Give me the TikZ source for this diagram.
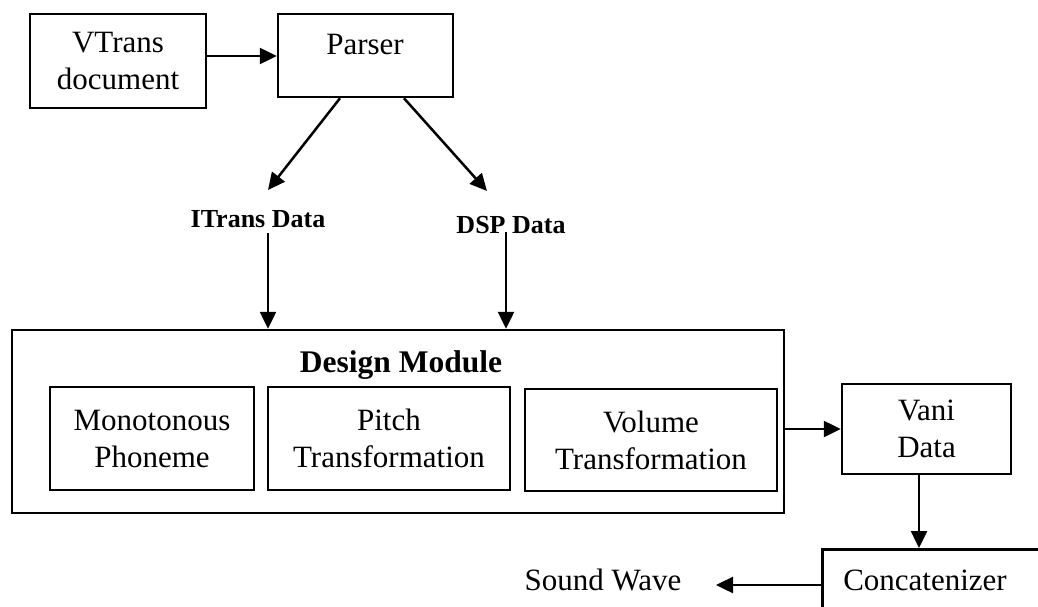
\documentclass[tikz,border=0pt]{standalone}
\usepackage{fontspec}
\setmainfont{Liberation Serif}
\usetikzlibrary{arrows.meta}

\begin{document}
\begin{tikzpicture}[x=1pt,y=-1pt,
  line width=2.5pt,
  box/.style={draw, rectangle, inner sep=0pt, align=center,
    font=\fontsize{31}{37}\selectfont},
  plain/.style={inner sep=0pt, align=center, font=\fontsize{31}{37}\selectfont},
  datalabel/.style={inner sep=0pt, font=\fontsize{26}{30}\selectfont\bfseries},
  flow/.style={-{Triangle[length=17pt,width=16pt]}}
]
\useasboundingbox (0,0) rectangle (1038,607);
\clip (0,0) rectangle (1038,607);

% input and parser
\node[box, minimum width=176, minimum height=94] (vtrans) at (118,61) {VTrans\\document};
\node[box, minimum width=175, minimum height=83] (parser) at (365.5,55.5) {};
\node[plain, anchor=base] (parsertxt) at (365,55) {Parser};

% parser outputs
\coordinate (itransend) at (268,190);
\coordinate (dspend) at (487,191);
\node[datalabel, anchor=base] (itrans) at (258,227) {ITrans Data};
\node[datalabel, anchor=base] (dsp) at (511,233) {DSP Data};
\coordinate (itransstart) at (268,233);
\coordinate (dspstart) at (506,232);

% design module with its three stages
\node[box, minimum width=772, minimum height=183] (design) at (398,421.5) {};
\node[datalabel, font=\fontsize{31.5}{36}\selectfont\bfseries, anchor=base] (designtxt) at (401,372) {Design Module};
\node[box, minimum width=204, minimum height=103] (mono) at (152,438.5) {Monotonous\\Phoneme};
\node[box, minimum width=242, minimum height=103] (pitch) at (389,438.5) {Pitch\\Transformation};
\node[box, minimum width=252, minimum height=102] (volume) at (651,440) {Volume\\Transformation};

% output chain
\node[box, minimum width=169, minimum height=90] (vani) at (926.5,429) {Vani\\Data};
\node[box, minimum width=260, minimum height=100, anchor=north west] (concat) at (821,548) {};
\node[plain, anchor=base] (concattxt) at (925,590) {Concatenizer};
\node[plain, anchor=base] (sound) at (603,590) {Sound Wave};
\coordinate (soundtip) at (716,585);

% connectors
\draw[flow] (vtrans.east |- 0,56) -- (parser.west |- 0,56);
\draw[flow] ([xshift=-25.5pt]parser.south) -- (itransend);
\draw[flow] ([xshift=38.5pt]parser.south) -- (dspend);
\draw[flow] (itransstart) -- (itransstart |- design.north);
\draw[flow] (dspstart) -- (dspstart |- design.north);
\draw[flow] (design.east |- vani.west) -- (vani.west);
\draw[flow] ([xshift=-7.5pt]vani.south) -- ([xshift=-7.5pt]vani.south |- concat.north);
\draw[flow] (concat.west |- soundtip) -- (soundtip);
\end{tikzpicture}
\end{document}
